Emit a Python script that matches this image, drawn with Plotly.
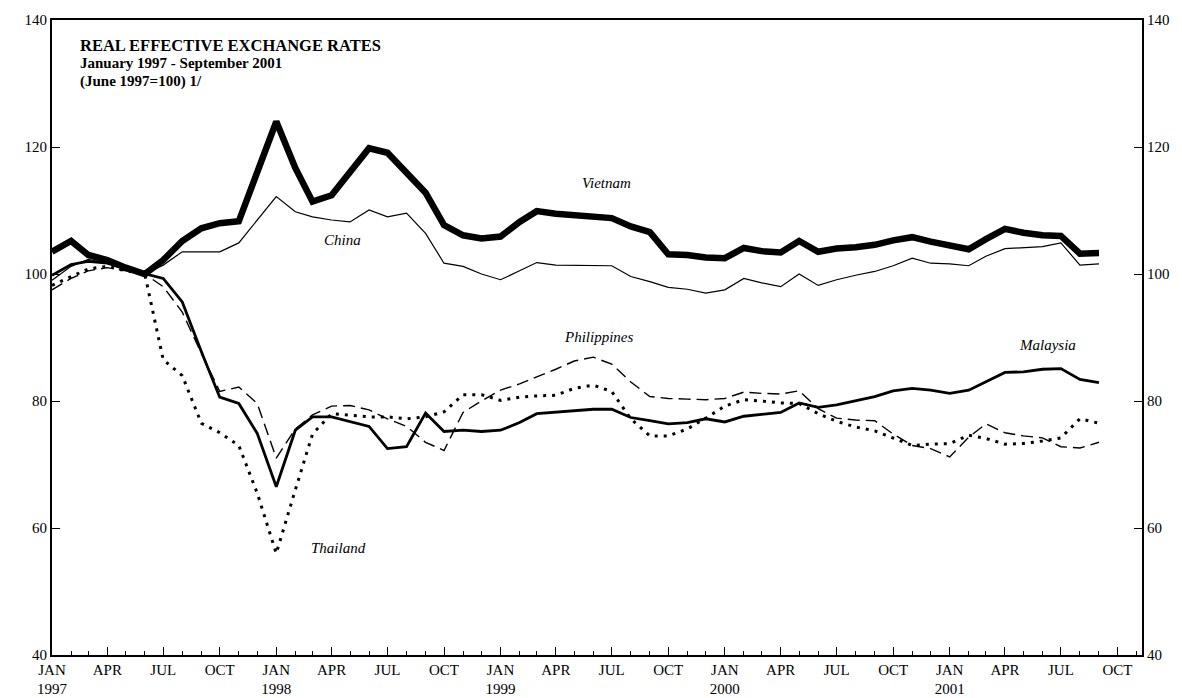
import pandas as pd
import plotly.graph_objects as go

# ---- data (monthly, January 1997 - September 2001, June 1997 = 100) ----
months = pd.date_range("1997-01-01", periods=57, freq="MS")

vietnam = [103.5, 105.2, 103.0, 102.2, 101.0, 100.0, 102.2, 105.2, 107.2, 108.0,
           108.3, 116.2, 124.0, 116.7, 111.4, 112.4, 116.1, 119.8, 119.1, 116.1,
           112.8, 107.7, 106.1, 105.6, 105.9, 108.2, 109.9, 109.5, 109.3, 109.0,
           108.8, 107.5, 106.6, 103.1, 103.0, 102.6, 102.5, 104.1, 103.6, 103.4,
           105.2, 103.5, 104.0, 104.2, 104.6, 105.3, 105.8, 105.1, 104.6, 103.9,
           105.5, 107.1, 106.5, 106.1, 106.0, 103.2, 103.3]

china = [99.0, 101.2, 102.3, 101.7, 100.7, 100.0, 101.4, 103.5, 103.5, 103.5,
         104.9, 108.5, 112.2, 109.8, 109.0, 108.5, 108.2, 110.1, 109.0, 109.6,
         106.4, 101.7, 101.2, 100.0, 99.1, 100.5, 101.8, 101.4, 101.4, 101.4,
         101.3, 99.6, 98.8, 97.9, 97.6, 97.0, 97.5, 99.3, 98.6, 98.0,
         100.0, 98.2, 99.1, 99.8, 100.4, 101.3, 102.5, 101.7, 101.6, 101.3,
         102.8, 104.0, 104.1, 104.3, 104.9, 101.4, 101.6]

malaysia = [99.8, 101.5, 102.0, 101.7, 100.8, 100.0, 99.3, 95.6, 87.8, 80.6,
            79.6, 74.9, 66.5, 75.4, 77.5, 77.5, 76.8, 76.0, 72.5, 72.8,
            78.1, 75.2, 75.4, 75.2, 75.4, 76.6, 78.0, 78.2, 78.5, 78.7,
            78.7, 77.4, 76.9, 76.4, 76.6, 77.2, 76.7, 77.6, 77.9, 78.2,
            79.7, 79.0, 79.4, 80.0, 80.7, 81.6, 82.0, 81.7, 81.2, 81.7,
            83.0, 84.5, 84.6, 85.0, 85.1, 83.4, 82.9]

philippines = [97.5, 99.3, 100.5, 101.0, 100.5, 100.0, 98.0, 94.0, 87.5, 81.5,
               82.2, 79.6, 71.0, 75.6, 77.8, 79.2, 79.3, 78.6, 77.2, 76.0,
               73.5, 72.2, 78.2, 80.0, 81.7, 82.7, 83.8, 85.0, 86.3, 86.9,
               85.8, 83.0, 80.7, 80.4, 80.3, 80.2, 80.4, 81.4, 81.2, 81.1,
               81.6, 78.8, 77.3, 77.0, 76.9, 74.8, 73.0, 72.5, 71.2, 74.3,
               76.4, 75.0, 74.5, 74.2, 72.8, 72.6, 73.5]

thailand = [98.2, 99.5, 100.8, 101.2, 100.5, 100.0, 86.5, 84.0, 76.5, 75.0,
            73.0, 65.5, 56.0, 66.0, 74.8, 78.0, 77.8, 77.5, 77.5, 77.2,
            77.5, 78.3, 81.0, 81.0, 80.1, 80.6, 80.8, 80.9, 82.0, 82.5,
            81.5, 77.2, 74.5, 74.5, 75.6, 77.3, 79.2, 80.2, 80.0, 79.7,
            79.6, 78.0, 76.8, 75.9, 75.3, 74.2, 73.0, 73.2, 73.3, 74.6,
            74.1, 73.2, 73.3, 73.7, 74.2, 77.2, 76.5]

tick_dates = pd.date_range("1997-01-01", "2001-10-01", freq="QS")
tick_text = ["JAN<br>1997", "APR", "JUL", "OCT",
             "JAN<br>1998", "APR", "JUL", "OCT",
             "JAN<br>1999", "APR", "JUL", "OCT",
             "JAN<br>2000", "APR", "JUL", "OCT",
             "JAN<br>2001", "APR", "JUL", "OCT"]
y_ticks = [40, 60, 80, 100, 120, 140]

title_lines = ["REAL EFFECTIVE EXCHANGE RATES",
               "January 1997 - September 2001",
               "(June 1997=100) 1/"]

SERIF = "Liberation Serif, Times New Roman, serif"

fig = go.Figure()
fig.add_trace(go.Scatter(x=months, y=china, mode="lines", name="China",
                         line=dict(color="black", width=1.2)))
fig.add_trace(go.Scatter(x=months, y=philippines, mode="lines", name="Philippines",
                         line=dict(color="black", width=1.4, dash="12px,6px")))
fig.add_trace(go.Scatter(x=months, y=thailand, mode="lines", name="Thailand",
                         line=dict(color="black", width=3, dash="3px,6px")))
fig.add_trace(go.Scatter(x=months, y=malaysia, mode="lines", name="Malaysia",
                         line=dict(color="black", width=2.8)))
fig.add_trace(go.Scatter(x=months, y=vietnam, mode="lines", name="Vietnam",
                         line=dict(color="black", width=6.5), yaxis="y2"))

axis_font = dict(family=SERIF, size=15, color="black")

fig.update_layout(
    width=1182, height=698,
    margin=dict(l=52, r=40, t=20, b=43),
    paper_bgcolor="white", plot_bgcolor="white",
    showlegend=False,
    xaxis=dict(
        type="date", automargin=False,
        range=["1997-01-01", "2001-11-10"],
        tickvals=list(tick_dates), ticktext=tick_text,
        ticks="inside", ticklen=8, tickwidth=1.2, tickcolor="black",
        minor=dict(ticks="inside", ticklen=4, tickwidth=1, tickcolor="black",
                   dtick="M1", tick0="1997-01-01", showgrid=False),
        showline=True, linecolor="black", linewidth=1.8, mirror=True,
        showgrid=False, zeroline=False,
        tickfont=axis_font,
    ),
    yaxis=dict(
        range=[40, 140], tickvals=y_ticks, automargin=False,
        ticks="inside", ticklen=8, tickwidth=1.2, tickcolor="black",
        showline=True, linecolor="black", linewidth=1.8,
        showgrid=False, zeroline=False, tickfont=axis_font,
    ),
    yaxis2=dict(
        range=[40, 140], tickvals=y_ticks, overlaying="y", side="right",
        automargin=False,
        ticks="inside", ticklen=8, tickwidth=1.2, tickcolor="black",
        showline=True, linecolor="black", linewidth=1.8,
        showgrid=False, zeroline=False, tickfont=axis_font,
    ),
)

def px_to_paper(px, py):
    return (px - 52) / 1090.0, (655 - py) / 635.0

# title block
for line, py, size in zip(title_lines, [45, 63, 81], [16.5, 15, 15]):
    xp, yp = px_to_paper(78, py)
    fig.add_annotation(x=xp, y=yp, xref="paper", yref="paper", text="<b>%s</b>" % line,
                       showarrow=False, xanchor="left", yanchor="middle",
                       font=dict(family=SERIF, size=size, color="black"))

# series labels
labels = [("Vietnam", 606, 183), ("China", 342, 240), ("Philippines", 598, 337),
          ("Malaysia", 1047, 345), ("Thailand", 338, 548)]
for name, px, py in labels:
    xp, yp = px_to_paper(px, py)
    fig.add_annotation(x=xp, y=yp, xref="paper", yref="paper", text="<i>%s</i>" % name,
                       showarrow=False, xanchor="center", yanchor="middle",
                       font=dict(family=SERIF, size=15, color="black"))

fig.write_html("out.html", config={"displayModeBar": False},
               post_script="document.body.style.margin='0';")
